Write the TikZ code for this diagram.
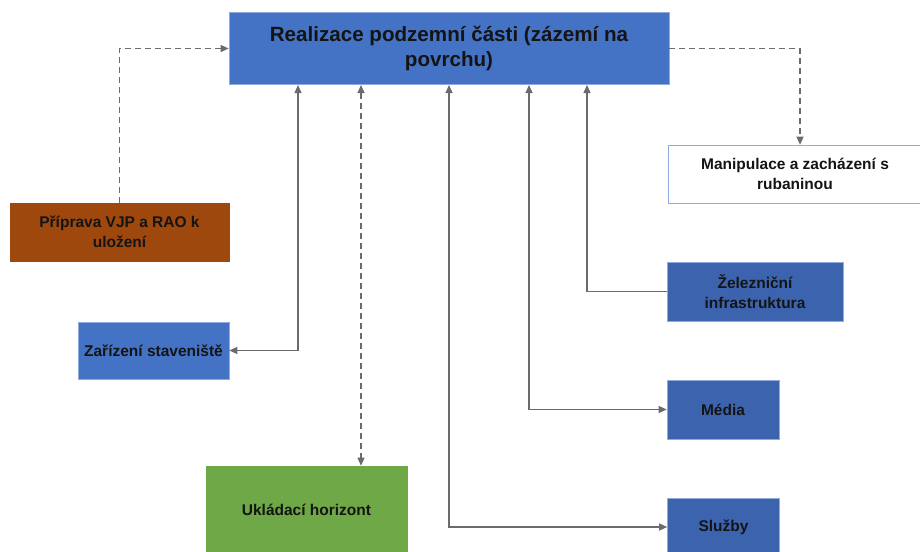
\documentclass[tikz,border=0pt]{standalone}
\usepackage{fontspec}
\setmainfont{Liberation Sans}
\usetikzlibrary{arrows.meta}
\definecolor{mainblue}{HTML}{4472C4}
\definecolor{darkblue}{HTML}{3C64AE}
\definecolor{rust}{HTML}{9E480E}
\definecolor{leaf}{HTML}{6FA847}
\definecolor{edgeblue}{HTML}{8FAADC}
\definecolor{wire}{HTML}{6B6B6B}
\definecolor{ink}{HTML}{141414}
\begin{document}
\begin{tikzpicture}[x=1pt,y=-1pt,
  tip/.tip={Triangle[length=8pt,width=7pt]},
  box/.style={rectangle, draw=edgeblue, line width=0.6pt, inner sep=0pt, align=center,
    text=ink, font=\fontsize{15.5}{19.5}\selectfont\bfseries},
  conn/.style={draw=wire, line width=1.2pt, tip-tip},
  upconn/.style={draw=wire, line width=1.2pt, -tip},
  dashconn/.style={draw=wire, line width=1.2pt, dash pattern=on 6pt off 4pt, -tip},
  ddashconn/.style={dashconn, tip-tip}]
\useasboundingbox (0,0) rectangle (920,551);

% boxes
\node[box, fill=mainblue, minimum width=440pt, minimum height=72pt,
  font=\fontsize{20.6}{25}\selectfont\bfseries] (main) at (449,48.5)
  {Realizace podzemní části (zázemí na\\povrchu)};
\node[box, fill=rust, draw=rust, minimum width=219pt, minimum height=58pt] (prip) at (119.5,232)
  {Příprava VJP a RAO k\\uložení};
\node[box, fill=mainblue, minimum width=151pt, minimum height=57pt] (zar) at (153.5,350.5)
  {Zařízení staveniště};
\node[box, fill=leaf, draw=leaf, minimum width=201pt, minimum height=88pt] (ukl) at (306.5,510)
  {Ukládací horizont};
\node[box, fill=white, minimum width=254pt, minimum height=58pt] (man) at (795,174)
  {Manipulace a zacházení s\\rubaninou};
\node[box, fill=darkblue, minimum width=176pt, minimum height=59pt] (zel) at (755,291.5)
  {Železniční\\infrastruktura};
\node[box, fill=darkblue, minimum width=112pt, minimum height=59pt] (med) at (723,409.5)
  {Média};
\node[box, fill=darkblue, minimum width=112pt, minimum height=58pt] (slu) at (723.5,527)
  {Služby};

% attachment points on the main box
\coordinate (t1) at (298,85);
\coordinate (t2) at (361,85);
\coordinate (t3) at (449,85);
\coordinate (t4) at (529,85);
\coordinate (t5) at (587,85);

% connectors
\draw[dashconn] (prip.north) |- (main.west);
\draw[dashconn] (main.east) -| ([xshift=5pt]man.north);
\draw[conn] (zar.east) -| (t1);
\draw[ddashconn] (t2) -- (t2 |- ukl.north);
\draw[conn] (slu.west) -| (t3);
\draw[conn] (med.west) -| (t4);
\draw[upconn] (zel.west) -| (t5);
\end{tikzpicture}
\end{document}
